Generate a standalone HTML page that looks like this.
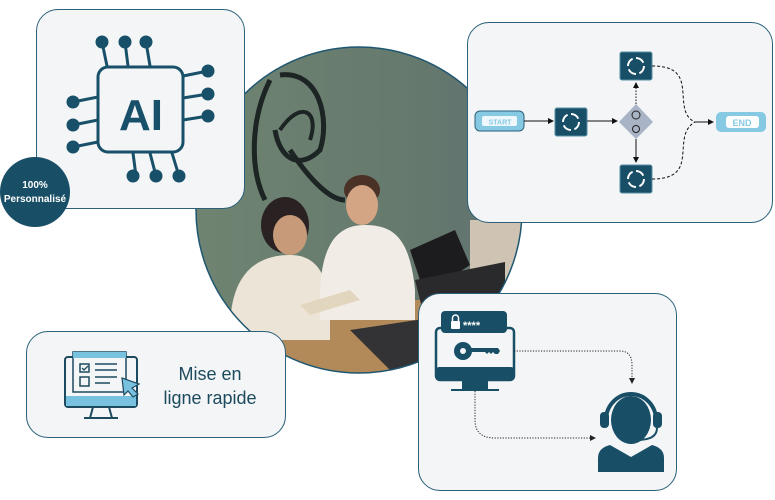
<!DOCTYPE html>
<html><head><meta charset="utf-8"><style>
html,body{margin:0;padding:0;background:#fff;width:775px;height:500px;overflow:hidden;font-family:"Liberation Sans",sans-serif}
.card{position:absolute;background:#f3f5f6;border:1.5px solid #2a6079;border-radius:22px;box-sizing:border-box}
</style></head><body>
<!-- photo circle -->
<svg style="position:absolute;left:0;top:0" width="775" height="500">
<defs>
<clipPath id="c"><circle cx="359" cy="210" r="163"/></clipPath>
<linearGradient id="wall" x1="0" x2="1"><stop offset="0" stop-color="#6f8471"/><stop offset="0.6" stop-color="#667a6e"/><stop offset="1" stop-color="#5e7270"/></linearGradient>
</defs>
<g clip-path="url(#c)">
<rect x="190" y="40" width="340" height="340" fill="url(#wall)"/>
<rect x="470" y="220" width="60" height="100" fill="#cfc4b4"/>
<path d="M270 80 C250 120 250 170 265 200 M280 75 C320 70 330 120 320 150 C300 170 280 160 275 130 M290 150 C310 180 330 200 345 200" stroke="#1d2424" stroke-width="5" fill="none"/>
<path d="M280 130 C300 100 320 110 310 140" stroke="#1d2424" stroke-width="4" fill="none"/>
<!-- table -->
<polygon points="190,330 330,300 480,300 530,330 530,380 190,380" fill="#b28a5a"/>
<!-- woman -->
<ellipse cx="285" cy="225" rx="24" ry="28" fill="#2a2222"/>
<ellipse cx="290" cy="235" rx="17" ry="20" fill="#c79a7a"/>
<path d="M230 330 C230 270 260 255 290 255 C320 255 330 280 330 320 L330 340 L230 340Z" fill="#ece4d6"/>
<!-- man -->
<ellipse cx="362" cy="190" rx="18" ry="15" fill="#4a3226"/>
<ellipse cx="362" cy="205" rx="16" ry="20" fill="#d3a585"/>
<path d="M320 300 C320 240 340 225 365 225 C395 225 410 240 415 290 L415 320 L320 320Z" fill="#f1ede6"/>
<polygon points="410,250 455,230 470,265 425,295" fill="#1c1c1e"/>
<!-- laptop -->
<polygon points="415,280 505,262 505,320 430,340" fill="#2a2a2c"/>
<polygon points="350,330 430,318 430,365 390,370" fill="#333336"/>
<polygon points="300,305 350,290 360,300 310,315" fill="#e3d6bf"/>
</g>
<circle cx="359" cy="210" r="163" fill="none" stroke="#1f5670" stroke-width="1.5"/>
</svg>

<!-- AI card -->
<div class="card" style="left:36px;top:9px;width:209px;height:200px"></div>
<svg style="position:absolute;left:0;top:0" width="260" height="230">
<g stroke="#18506a" stroke-width="3" fill="#18506a">
<line x1="102" y1="42" x2="107" y2="66"/><line x1="125" y1="42" x2="128" y2="66"/><line x1="146" y1="42" x2="150" y2="66"/>
<line x1="133" y1="153" x2="136" y2="176"/><line x1="150" y1="153" x2="156" y2="176"/><line x1="172" y1="153" x2="179" y2="176"/>
<line x1="73" y1="102" x2="98" y2="97"/><line x1="73" y1="125" x2="98" y2="120"/><line x1="73" y1="147" x2="98" y2="142"/>
<line x1="183" y1="76" x2="208" y2="71"/><line x1="183" y1="98" x2="208" y2="94"/><line x1="183" y1="120" x2="208" y2="116"/>
<circle cx="102" cy="42" r="5"/><circle cx="125" cy="42" r="5"/><circle cx="146" cy="42" r="5"/>
<circle cx="133" cy="176" r="5"/><circle cx="156" cy="176" r="5"/><circle cx="179" cy="176" r="5"/>
<circle cx="73" cy="102" r="5"/><circle cx="73" cy="125" r="5"/><circle cx="73" cy="147" r="5"/>
<circle cx="208" cy="71" r="5"/><circle cx="208" cy="94" r="5"/><circle cx="208" cy="116" r="5"/>
<rect x="98" y="67" width="85" height="85" rx="10" fill="#f3f5f6"/>
</g>
<text x="141" y="130" text-anchor="middle" font-family="Liberation Sans" font-weight="bold" font-size="44" fill="#18506a">AI</text>
<circle cx="35" cy="192" r="35" fill="#184e66"/>
<text x="35" y="188" text-anchor="middle" font-size="10" font-weight="bold" fill="#fff">100%</text>
<text x="35" y="202" text-anchor="middle" font-size="10" font-weight="bold" fill="#fff">Personnalisé</text>
</svg>

<!-- Flow card -->
<div class="card" style="left:467px;top:22px;width:306px;height:201px"></div>
<svg style="position:absolute;left:0;top:0" width="775" height="240">
<defs><marker id="a" markerWidth="6" markerHeight="6" refX="5" refY="3" orient="auto"><path d="M0,0 L6,3 L0,6Z" fill="#111"/></marker>
<g id="cyc"><rect x="0" y="0" width="32" height="28" rx="2" fill="#184e66" stroke="#5a8fa8" stroke-width="1"/><circle cx="16" cy="14" r="8" fill="none" stroke="#fff" stroke-width="2" stroke-dasharray="9 3.5"/></g></defs>
<rect x="475" y="111" width="49" height="20" rx="5" fill="#86c9e3" stroke="#2a6079" stroke-width="1"/>
<rect x="482" y="116" width="35" height="10" rx="2" fill="#eef8fc"/>
<text x="500" y="124.5" text-anchor="middle" font-size="7" font-weight="bold" fill="#86c9e3">START</text>
<line x1="524" y1="121" x2="553" y2="121" stroke="#111" stroke-width="1" marker-end="url(#a)"/>
<use href="#cyc" x="555" y="108"/>
<line x1="587" y1="121" x2="617" y2="121" stroke="#111" stroke-width="1" marker-end="url(#a)"/>
<polygon points="636,104 653,122 636,139 619,122" fill="#a9b3c6"/>
<circle cx="636" cy="115" r="4" fill="none" stroke="#222" stroke-width="1"/>
<circle cx="636" cy="129" r="3.5" fill="none" stroke="#222" stroke-width="1"/>
<line x1="636" y1="104" x2="636" y2="83" stroke="#111" stroke-dasharray="1.5 1.5" marker-end="url(#a)"/>
<line x1="636" y1="139" x2="636" y2="162" stroke="#111" marker-end="url(#a)"/>
<use href="#cyc" x="620" y="52"/>
<use href="#cyc" x="620" y="165"/>
<path d="M652 66 C690 66 680 90 685 110 C688 120 695 122 695 122 M652 179 C690 179 680 155 685 135 C688 125 695 122 695 122" fill="none" stroke="#111" stroke-dasharray="3 2"/>
<line x1="695" y1="122" x2="713" y2="122" stroke="#111" marker-end="url(#a)"/>
<rect x="716" y="112" width="50" height="20" rx="5" fill="#86c9e3"/>
<rect x="726" y="116" width="33" height="12" rx="3" fill="#fff"/>
<text x="742" y="126" text-anchor="middle" font-size="9" font-weight="bold" fill="#86c9e3">END</text>
</svg>

<!-- Mise card -->
<div class="card" style="left:26px;top:331px;width:260px;height:107px"></div>
<svg style="position:absolute;left:0;top:0" width="300" height="450">
<rect x="65" y="357" width="72" height="50" rx="3" fill="#f3f5f6" stroke="#1d4a5e" stroke-width="2"/>
<rect x="66" y="396" width="70" height="10" fill="#78c2e0"/>
<line x1="93" y1="407" x2="90" y2="418" stroke="#1d4a5e" stroke-width="2"/><line x1="109" y1="407" x2="112" y2="418" stroke="#1d4a5e" stroke-width="2"/>
<line x1="84" y1="418" x2="118" y2="418" stroke="#1d4a5e" stroke-width="2"/>
<rect x="73" y="352" width="53" height="40" fill="#f3f5f6" stroke="#1d4a5e" stroke-width="1.5"/>
<rect x="73" y="352" width="53" height="6" fill="#78c2e0"/>
<rect x="80" y="364" width="9" height="8" fill="none" stroke="#1d4a5e" stroke-width="1.5"/>
<rect x="80" y="377" width="9" height="9" fill="none" stroke="#1d4a5e" stroke-width="1.5"/>
<path d="M82 368 l2 2 l4 -4" stroke="#1d4a5e" fill="none" stroke-width="1.3"/>
<line x1="95" y1="364" x2="117" y2="364" stroke="#1d4a5e" stroke-width="1.5"/><line x1="95" y1="370" x2="117" y2="370" stroke="#1d4a5e" stroke-width="1.5"/><line x1="95" y1="377" x2="117" y2="377" stroke="#1d4a5e" stroke-width="1.5"/><line x1="95" y1="383" x2="110" y2="383" stroke="#1d4a5e" stroke-width="1.5"/>
<polygon points="122,378 139,384 132,388 138,394 133,397 128,391 124,395" fill="#78c2e0" stroke="#1d4a5e" stroke-width="1.2"/>
<text x="210" y="380" text-anchor="middle" font-size="18" fill="#1d4a5e">Mise en</text>
<text x="210" y="404" text-anchor="middle" font-size="18" fill="#1d4a5e">ligne rapide</text>
</svg>

<!-- Security card -->
<div class="card" style="left:418px;top:293px;width:259px;height:198px"></div>
<svg style="position:absolute;left:0;top:0" width="775" height="500">
<defs><marker id="b" markerWidth="6" markerHeight="6" refX="5" refY="3" orient="auto"><path d="M0,0 L6,3 L0,6Z" fill="#222"/></marker></defs>
<rect x="436" y="328" width="78" height="52" rx="4" fill="#f3f5f6" stroke="#184e66" stroke-width="2.5"/>
<rect x="436" y="367" width="78" height="13" rx="3" fill="#184e66"/>
<rect x="462" y="380" width="26" height="9" fill="#184e66"/>
<rect x="451" y="389" width="48" height="2" fill="#184e66"/>
<rect x="441" y="311" width="66" height="22" rx="4" fill="#184e66"/>
<rect x="451" y="321" width="9" height="8" rx="1" fill="#fff"/><path d="M452.5 321 v-3 a3 3 0 0 1 6 0 v3" stroke="#fff" stroke-width="1.5" fill="none"/>
<text x="463" y="329" font-size="11" fill="#fff" font-weight="bold">****</text>
<circle cx="463" cy="351" r="9" fill="#184e66"/><circle cx="463" cy="351" r="3" fill="#f3f5f6"/>
<path d="M470 348 h28 l2 3 l-2 3 h-3 l-2 -2 l-2 2 l-2 -2 l-2 2 l-2 -2 h-15z" fill="#184e66"/>
<path d="M514 351 H620 Q632 351 632 365 V383" fill="none" stroke="#222" stroke-dasharray="1.2 1.5" marker-end="url(#b)"/>
<path d="M475 391 V420 Q475 438 495 438 H595" fill="none" stroke="#222" stroke-dasharray="1.2 1.5" marker-end="url(#b)"/>
<ellipse cx="631" cy="420" rx="20" ry="24" fill="#184e66"/>
<path d="M606 420 a25 26 0 0 1 50 0" fill="none" stroke="#184e66" stroke-width="4"/>
<rect x="600" y="412" width="9" height="16" rx="4" fill="#184e66"/><rect x="653" y="412" width="9" height="16" rx="4" fill="#184e66"/>
<path d="M657 428 q0 12 -20 12" stroke="#184e66" stroke-width="2" fill="none"/><circle cx="636" cy="440" r="2.5" fill="#184e66"/>
<path d="M598 472 V458 q0 -10 12 -13 l21 12 l21 -12 q12 3 12 13 V472z" fill="#184e66"/>
</svg>
</body></html>
